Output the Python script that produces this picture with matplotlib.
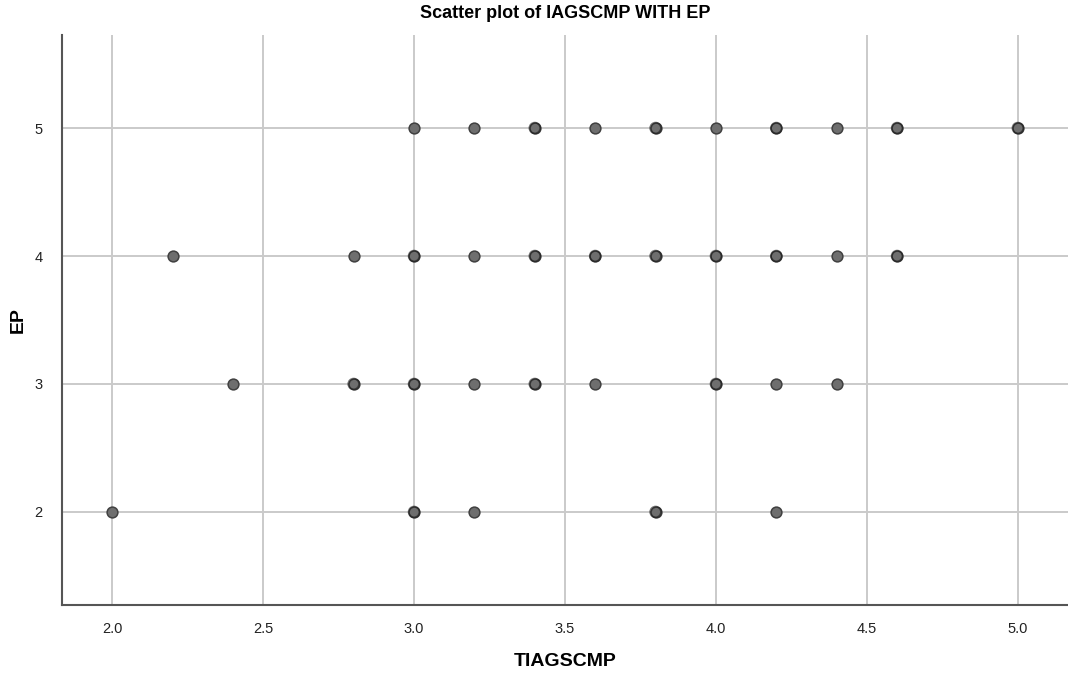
import matplotlib
matplotlib.use("Agg")
import matplotlib.pyplot as plt

plt.rcParams['font.family'] = ['Liberation Sans', 'DejaVu Sans']

# Data: (TIAGSCMP, EP) observations
ep5_x = [3.0, 3.2, 3.4, 3.6, 3.8, 4.0, 4.2, 4.4, 4.6, 5.0]
ep4_x = [2.2, 2.8, 3.0, 3.2, 3.4, 3.6, 3.8, 4.0, 4.2, 4.4, 4.6]
ep3_x = [2.4, 2.8, 3.0, 3.2, 3.4, 3.6, 4.0, 4.2, 4.4]
ep2_x = [2.0, 3.0, 3.2, 3.8, 4.2]
# points with several overlapping cases (drawn darker)
dup_x = [3.4, 3.8, 4.6, 5.0, 3.0, 3.4, 3.6, 3.8, 4.0, 4.2, 4.2, 4.6, 2.8, 3.0, 3.4, 4.0, 3.0, 3.8]
dup_y = [5, 5, 5, 5, 4, 4, 4, 4, 4, 4, 5, 4, 3, 3, 3, 3, 2, 2]

xticks = [2.0, 2.5, 3.0, 3.5, 4.0, 4.5, 5.0]
xtick_labels = ["2.0", "2.5", "3.0", "3.5", "4.0", "4.5", "5.0"]
yticks = [2, 3, 4, 5]
ytick_labels = ["2", "3", "4", "5"]

fig = plt.figure(figsize=(10.68, 6.77), dpi=100)
ax = fig.add_axes([62/1068, 72/677, 1 - 62/1068, (605-35)/677])

xs = ep5_x + ep4_x + ep3_x + ep2_x
ys = [5]*len(ep5_x) + [4]*len(ep4_x) + [3]*len(ep3_x) + [2]*len(ep2_x)

ax.set_axisbelow(True)
ax.grid(True, color='#cacaca', linewidth=1.4)
ax.scatter(xs, ys, s=60, facecolor='#6e6e6e', edgecolor='#404040', linewidths=1.1, zorder=3)
ax.scatter(dup_x, dup_y, s=60, facecolor='none', edgecolor='#1a1a1a', linewidths=1.3, alpha=0.6, zorder=4)

ax.set_xlim(1.834, 5.166)
ax.set_ylim(1.273, 5.727)
ax.set_xticks(xticks)
ax.set_xticklabels(xtick_labels)
ax.set_yticks(yticks)
ax.set_yticklabels(ytick_labels)
ax.tick_params(length=0, labelsize=10.5, colors='#222222')
ax.tick_params(axis='x', pad=12)
ax.tick_params(axis='y', pad=14)

for side in ['top', 'right']:
    ax.spines[side].set_visible(False)
for side in ['left', 'bottom']:
    ax.spines[side].set_color('#555555')
    ax.spines[side].set_linewidth(1.5)

fig.text(565/1068, 1 - 13/677, "Scatter plot of IAGSCMP WITH EP", fontsize=13,
         fontweight='bold', ha='center', va='center')
fig.text(565/1068, 1 - 661/677, "TIAGSCMP", fontsize=14, fontweight='bold',
         ha='center', va='center')
fig.text(18/1068, 1 - 320/677, "EP", fontsize=14, fontweight='bold',
         ha='center', va='center', rotation=90)

fig.savefig("out.png", dpi=100)
